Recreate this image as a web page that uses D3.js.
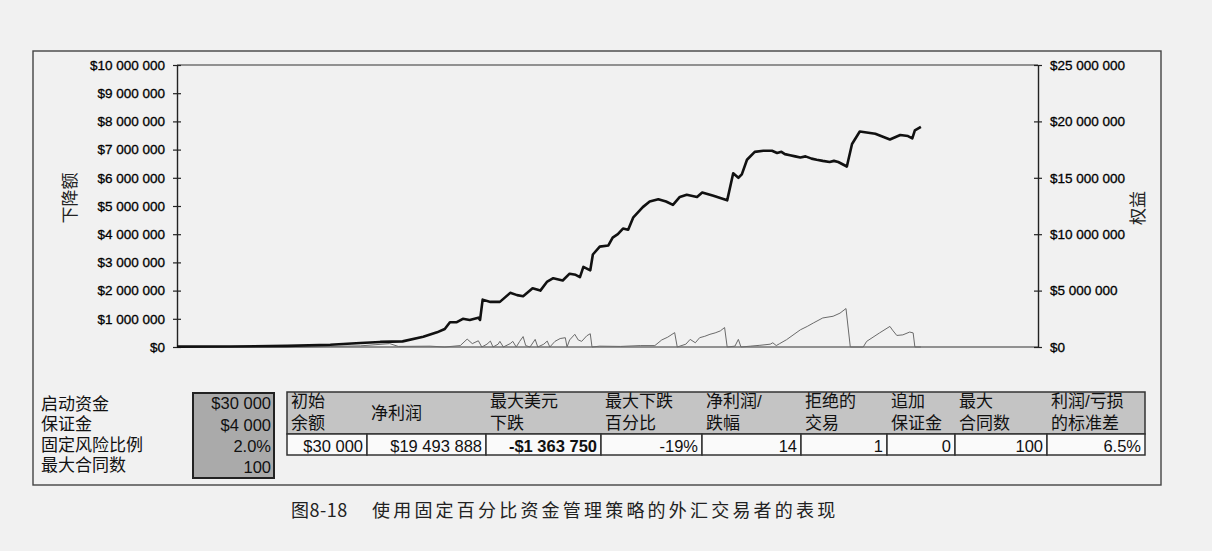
<!DOCTYPE html>
<html>
<head>
<meta charset="utf-8">
<script src="https://cdn.jsdelivr.net/npm/d3@7/dist/d3.min.js"></script>
<style>
  html, body { margin: 0; padding: 0; background: #f1f1f1; }
  svg { display: block; }
  .num { font-family: "Liberation Sans", Arial, sans-serif; }
  .cjk { font-family: "Liberation Sans", "Noto Sans CJK SC", sans-serif; }
</style>
</head>
<body>
<svg id="chart" width="1212" height="551"></svg>
<script>
// ---------- DATA ----------
// Equity curve (right axis): trade number, equity in dollars
const equityTrade = [0, 62, 128, 178, 213, 236, 262, 286, 302, 311, 317, 325, 332, 340, 350, 352, 355, 364, 375, 387, 395, 402, 413, 422, 430, 437, 448, 456, 463, 468, 472, 480, 483, 491, 501, 506, 512, 518, 524, 530, 541, 549, 559, 568, 576, 584, 592, 604, 610, 623, 631, 639, 646, 652, 656, 662, 671, 681, 691, 697, 702, 706, 712, 718, 724, 730, 737, 743, 750, 758, 763, 768, 773, 778, 784, 793, 811, 828, 840, 849, 854, 857, 864];
const equityValue = [30000, 50000, 100000, 200000, 350000, 450000, 500000, 900000, 1300000, 1600000, 2200000, 2200000, 2500000, 2400000, 2600000, 2400000, 4200000, 4000000, 4000000, 4800000, 4600000, 4500000, 5200000, 5000000, 5800000, 6100000, 5900000, 6500000, 6400000, 6200000, 7100000, 6800000, 8200000, 8900000, 9000000, 9700000, 10000000, 10500000, 10400000, 11500000, 12400000, 12900000, 13100000, 12900000, 12600000, 13300000, 13500000, 13300000, 13700000, 13400000, 13200000, 13000000, 15400000, 15000000, 15300000, 16600000, 17300000, 17400000, 17400000, 17200000, 17300000, 17100000, 17000000, 16900000, 16800000, 16900000, 16700000, 16600000, 16500000, 16400000, 16500000, 16400000, 16200000, 16000000, 18000000, 19100000, 18900000, 18400000, 18800000, 18700000, 18500000, 19200000, 19520000];

// Drawdown curve (left axis): trade number, drawdown in dollars
const drawTrade = [0, 143, 178, 213, 230, 247, 257, 294, 311, 329, 337, 343, 350, 354, 360, 364, 367, 373, 375, 379, 387, 390, 394, 398, 402, 405, 410, 416, 419, 426, 430, 433, 439, 445, 451, 453, 456, 462, 466, 470, 476, 480, 482, 491, 515, 538, 555, 563, 570, 578, 581, 591, 596, 602, 607, 613, 619, 625, 631, 636, 639, 648, 652, 655, 666, 677, 689, 692, 696, 700, 708, 724, 732, 739, 750, 762, 770, 777, 782, 793, 797, 801, 816, 828, 831, 836, 843, 851, 855, 857, 864];
const drawValue = [0, 0, 20000, 40000, 80000, 120000, 20000, 30000, 0, 50000, 280000, 120000, 220000, 0, 100000, 210000, 0, 100000, 200000, 0, 120000, 200000, 0, 200000, 370000, 50000, 0, 270000, 0, 100000, 210000, 0, 200000, 300000, 330000, 0, 250000, 450000, 250000, 200000, 400000, 470000, 0, 30000, 20000, 50000, 50000, 250000, 350000, 510000, 0, 100000, 270000, 150000, 330000, 380000, 450000, 500000, 570000, 690000, 0, 30000, 270000, 0, 30000, 60000, 100000, 150000, 50000, 120000, 260000, 610000, 730000, 850000, 1030000, 1090000, 1200000, 1363750, 0, 0, 0, 200000, 500000, 730000, 600000, 410000, 430000, 530000, 500000, 0, 0];

const leftTicks = [0, 1e6, 2e6, 3e6, 4e6, 5e6, 6e6, 7e6, 8e6, 9e6, 10e6];
const rightTicks = [0, 5e6, 10e6, 15e6, 20e6, 25e6];
const leftTitle = "下降额";
const rightTitle = "权益";

const inputLabels = ["启动资金", "保证金", "固定风险比例", "最大合同数"];
const inputValues = ["$30 000", "$4 000", "2.0%", "100"];

const tableHeaders = [["初始", "余额"], ["净利润"], ["最大美元", "下跌"], ["最大下跌", "百分比"], ["净利润/", "跌幅"], ["拒绝的", "交易"], ["追加", "保证金"], ["最大", "合同数"], ["利润/亏损", "的标准差"]];
const tableValues = ["$30 000", "$19 493 888", "-$1 363 750", "-19%", "14", "1", "0", "100", "6.5%"];
const boldColumn = 2;

const captionNumber = "图8-18";
const captionText = "使用固定百分比资金管理策略的外汇交易者的表现";

// ---------- DRAW ----------
const svg = d3.select("#chart");
const P = { left: 177, right: 1038, top: 65, bottom: 347 };

const x = d3.scaleLinear().domain([0, 1000]).range([P.left, P.right]);
const yL = d3.scaleLinear().domain([0, 10e6]).range([P.bottom, P.top]);
const yR = d3.scaleLinear().domain([0, 25e6]).range([P.bottom, P.top]);

const fmt = v => "$" + d3.format(",")(v).replace(/,/g, " ");

// outer frame
svg.append("rect").attr("x", 33).attr("y", 51).attr("width", 1128).attr("height", 434)
  .attr("fill", "none").attr("stroke", "#444").attr("stroke-width", 1.4);

// top border and baseline
svg.append("line").attr("x1", P.left).attr("x2", P.right).attr("y1", P.top).attr("y2", P.top)
  .attr("stroke", "#333").attr("stroke-width", 1.2);
svg.append("line").attr("x1", P.left).attr("x2", P.right).attr("y1", P.bottom).attr("y2", P.bottom)
  .attr("stroke", "#333").attr("stroke-width", 1.2);

// axes
const gL = svg.append("g").attr("transform", `translate(${P.left},0)`)
  .call(d3.axisLeft(yL).tickValues(leftTicks).tickFormat(fmt).tickSizeOuter(0).tickSizeInner(4).tickPadding(8));
const gR = svg.append("g").attr("transform", `translate(${P.right},0)`)
  .call(d3.axisRight(yR).tickValues(rightTicks).tickFormat(fmt).tickSizeOuter(0).tickSizeInner(4).tickPadding(8));
[gL, gR].forEach(g => {
  g.select(".domain").attr("stroke", "#222").attr("stroke-width", 1.4);
  g.selectAll(".tick line").attr("x1", -4).attr("x2", 4).attr("stroke", "#222").attr("stroke-width", 1.2);
  g.selectAll(".tick text").attr("class", "num").attr("font-size", 13.5).attr("fill", "#000")
    .attr("stroke", "#000").attr("stroke-width", 0.3)
    .attr("font-family", "Liberation Sans, Arial, sans-serif");
});

// axis titles
svg.append("text").attr("class", "cjk").attr("transform", "translate(70,198) rotate(-90)")
  .attr("text-anchor", "middle").attr("dominant-baseline", "central")
  .attr("font-size", 17).attr("fill", "#222").text(leftTitle);
svg.append("text").attr("class", "cjk").attr("transform", "translate(1138,208) rotate(-90)")
  .attr("text-anchor", "middle").attr("dominant-baseline", "central")
  .attr("font-size", 17).attr("fill", "#222").text(rightTitle);

// lines
const drawData = drawTrade.map((t, i) => [t, drawValue[i]]);
const eqData = equityTrade.map((t, i) => [t, equityValue[i]]);
svg.append("path").datum(drawData)
  .attr("d", d3.line().x(d => x(d[0])).y(d => yL(d[1])))
  .attr("fill", "none").attr("stroke", "#6a6a6a").attr("stroke-width", 1);
svg.append("path").datum(eqData)
  .attr("d", d3.line().x(d => x(d[0])).y(d => yR(d[1])))
  .attr("fill", "none").attr("stroke", "#111").attr("stroke-width", 2.6).attr("stroke-linejoin", "round");

// input labels & gray box
const rowY = [404.5, 424.5, 445, 465];
inputLabels.forEach((t, i) => {
  svg.append("text").attr("class", "cjk").attr("x", 41).attr("y", rowY[i])
    .attr("dominant-baseline", "central").attr("font-size", 17).attr("fill", "#111").text(t);
});
svg.append("rect").attr("x", 193).attr("y", 393).attr("width", 81).attr("height", 85)
  .attr("fill", "#aaaaaa").attr("stroke", "#222").attr("stroke-width", 2);
const boxY = [403, 425, 446, 467];
inputValues.forEach((t, i) => {
  svg.append("text").attr("class", "num").attr("x", 271).attr("y", boxY[i])
    .attr("text-anchor", "end").attr("dominant-baseline", "central")
    .attr("font-size", 16.5).attr("fill", "#111").text(t);
});

// results table
const colEdges = [287, 367, 486, 601, 702, 801, 887, 955, 1047, 1145];
const hdrTop = 392, hdrBot = 434, rowBot = 455;
svg.append("rect").attr("x", colEdges[0]).attr("y", hdrTop)
  .attr("width", colEdges[colEdges.length - 1] - colEdges[0]).attr("height", hdrBot - hdrTop)
  .attr("fill", "#c4c4c4").attr("stroke", "#333").attr("stroke-width", 1.5);
tableHeaders.forEach((lines, i) => {
  const x0 = colEdges[i] + 4;
  if (lines.length === 1) {
    svg.append("text").attr("class", "cjk").attr("x", x0).attr("y", 413)
      .attr("dominant-baseline", "central").attr("font-size", 17).attr("fill", "#111").text(lines[0]);
  } else {
    lines.forEach((l, j) => {
      svg.append("text").attr("class", "cjk").attr("x", x0).attr("y", 401.5 + j * 21.5)
        .attr("dominant-baseline", "central").attr("font-size", 17).attr("fill", "#111").text(l);
    });
  }
});
tableValues.forEach((v, i) => {
  svg.append("rect").attr("x", colEdges[i]).attr("y", hdrBot)
    .attr("width", colEdges[i + 1] - colEdges[i]).attr("height", rowBot - hdrBot)
    .attr("fill", "#fafafa").attr("stroke", "#333").attr("stroke-width", 1.5);
  svg.append("text").attr("class", "num").attr("x", colEdges[i + 1] - 4).attr("y", (hdrBot + rowBot) / 2 + 1)
    .attr("text-anchor", "end").attr("dominant-baseline", "central")
    .attr("font-size", 16.5).attr("font-weight", i === boldColumn ? "bold" : "normal")
    .attr("fill", "#111").text(v);
});

// caption
const cap = svg.append("text").attr("y", 509)
  .attr("font-family", "Noto Sans CJK SC, sans-serif")
  .attr("dominant-baseline", "central").attr("font-size", 18).attr("fill", "#222");
cap.append("tspan").attr("x", 291).attr("letter-spacing", 0.5).text(captionNumber);
cap.append("tspan").attr("x", 372).attr("letter-spacing", 3.2).text(captionText);
</script>
</body>
</html>
